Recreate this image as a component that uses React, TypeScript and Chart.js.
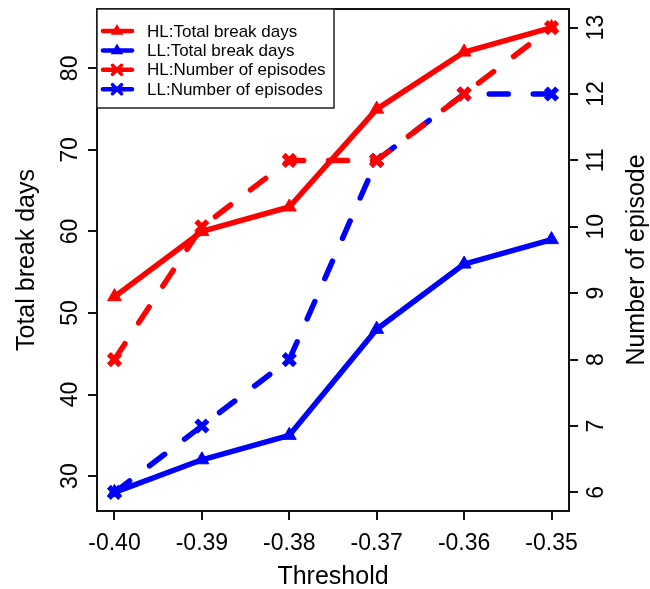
import React, { useEffect, useRef } from 'react';
import { Chart, registerables } from 'chart.js';

Chart.register(...registerables);

// ---- data ----
const thresholds = [-0.4, -0.39, -0.38, -0.37, -0.36, -0.35];
const hlBreakDays = [52, 60, 63, 75, 82, 85];
const llBreakDays = [28, 32, 35, 48, 56, 59];
const hlEpisodes = [8, 10, 11, 11, 12, 13];
const llEpisodes = [6, 7, 8, 11, 12, 12];

const xTicks = [-0.4, -0.39, -0.38, -0.37, -0.36, -0.35];
const leftTicks = [30, 40, 50, 60, 70, 80];
const rightTicks = [6, 7, 8, 9, 10, 11, 12, 13];

const seriesLabels = [
  'HL:Total break days',
  'LL:Total break days',
  'HL:Number of episodes',
  'LL:Number of episodes',
];
const xTitle = 'Threshold';
const leftTitle = 'Total break days';
const rightTitle = 'Number of episode';

const RED = '#ff0000';
const BLUE = '#0000ff';
const FONT = "'Liberation Sans', Arial, sans-serif";

// R-style 4% range extension
const ext = (vals: number[]) => {
  const mn = Math.min(...vals);
  const mx = Math.max(...vals);
  const d = (mx - mn) * 0.04;
  return [mn - d, mx + d];
};
const [xMin, xMax] = ext(thresholds);
const [lMin, lMax] = ext([...hlBreakDays, ...llBreakDays]);
const [rMin, rMax] = ext([...hlEpisodes, ...llEpisodes]);

const pts = (ys: number[]) => thresholds.map((x, i) => ({ x, y: ys[i] }));

const DASH = [19, 25];

const framePlugin = {
  id: 'rframe',
  afterDraw(chart: any) {
    const { ctx, chartArea: a } = chart;
    ctx.save();
    // box
    ctx.strokeStyle = '#111';
    ctx.lineWidth = 2;
    ctx.strokeRect(a.left, a.top, a.right - a.left, a.bottom - a.top);

    // right title (reads bottom to top)
    ctx.fillStyle = '#000';
    ctx.font = `25px ${FONT}`;
    ctx.textAlign = 'center';
    ctx.textBaseline = 'middle';
    ctx.translate(637, (a.top + a.bottom) / 2);
    ctx.rotate(-Math.PI / 2);
    ctx.fillText(rightTitle, 0, 0);
    ctx.restore();

    // legend
    const ds = chart.data.datasets;
    const lx = a.left;
    const ly = a.top;
    const lw = 237;
    const lh = 99;
    ctx.save();
    ctx.fillStyle = '#fff';
    ctx.fillRect(lx, ly, lw, lh);
    ctx.strokeStyle = '#222';
    ctx.lineWidth = 1.5;
    ctx.strokeRect(lx, ly, lw, lh);
    ctx.font = `17px ${FONT}`;
    ctx.textBaseline = 'middle';
    ctx.textAlign = 'left';
    ds.forEach((d: any, i: number) => {
      const cy = ly + 22 + i * 19.4;
      const c = d.borderColor;
      ctx.strokeStyle = c;
      ctx.fillStyle = c;
      ctx.lineWidth = 4.5;
      ctx.lineCap = 'round';
      ctx.beginPath();
      ctx.moveTo(lx + 6, cy);
      ctx.lineTo(lx + 35, cy);
      ctx.stroke();
      const mx = lx + 20;
      if (d.pointStyle === 'triangle') {
        const r = 7;
        ctx.beginPath();
        ctx.moveTo(mx, cy - r);
        ctx.lineTo(mx + r * 0.9, cy + r * 0.55);
        ctx.lineTo(mx - r * 0.9, cy + r * 0.55);
        ctx.closePath();
        ctx.fill();
      } else {
        const r = 4.5;
        ctx.lineWidth = 3.5;
        ctx.beginPath();
        ctx.moveTo(mx - r, cy - r);
        ctx.lineTo(mx + r, cy + r);
        ctx.moveTo(mx + r, cy - r);
        ctx.lineTo(mx - r, cy + r);
        ctx.stroke();
      }
      ctx.fillStyle = '#000';
      ctx.fillText(d.label, lx + 50, cy + 1);
    });
    ctx.restore();
  },
};

export default function App() {
  const ref = useRef<HTMLCanvasElement>(null);

  useEffect(() => {
    const canvas = ref.current;
    if (!canvas) return;

    const lineDs = (label: string, data: number[], color: string, axis: string, dashed: boolean, style: string) => ({
      label,
      data: pts(data),
      yAxisID: axis,
      borderColor: color,
      backgroundColor: color,
      borderWidth: 5.5,
      borderDash: dashed ? DASH : [],
      borderCapStyle: 'round',
      borderJoinStyle: 'round',
      pointStyle: style,
      pointRadius: 8,
      pointBorderWidth: style === 'triangle' ? 1 : 5.5,
      pointBackgroundColor: color,
      pointBorderColor: color,
      tension: 0,
      fill: false,
      clip: false as any,
    });

    const tickFont = { family: FONT, size: 23 };
    const titleFont = { family: FONT, size: 25 };
    const noPadV = (s: any, w: number) => {
      s.width = w;
      s.paddingTop = 0;
      s.paddingBottom = 0;
    };

    const chart = new Chart(canvas, {
      type: 'line',
      data: {
        datasets: [
          lineDs(seriesLabels[0], hlBreakDays, RED, 'y', false, 'triangle'),
          lineDs(seriesLabels[1], llBreakDays, BLUE, 'y', false, 'triangle'),
          lineDs(seriesLabels[2], hlEpisodes, RED, 'y2', true, 'crossRot'),
          lineDs(seriesLabels[3], llEpisodes, BLUE, 'y2', true, 'crossRot'),
        ] as any,
      },
      options: {
        responsive: false,
        animation: false,
        devicePixelRatio: 1,
        layout: { autoPadding: false, padding: { top: 9, left: 0, right: 0, bottom: 0 } },
        plugins: {
          legend: { display: false },
          tooltip: { enabled: false },
        },
        scales: {
          x: {
            type: 'linear',
            position: 'bottom',
            min: xMin,
            max: xMax,
            afterBuildTicks: (s: any) => {
              s.ticks = xTicks.map((v) => ({ value: v }));
            },
            afterFit: (s: any) => {
              s.height = 78;
              s.paddingLeft = 0;
              s.paddingRight = 0;
            },
            ticks: {
              autoSkip: false,
              maxRotation: 0,
              minRotation: 0,
              padding: 10,
              color: '#000',
              font: tickFont,
              callback: (v: any) => Number(v).toFixed(2),
            },
            grid: {
              drawOnChartArea: false,
              drawTicks: true,
              tickLength: 9,
              color: '#111',
              lineWidth: 2,
            },
            border: { display: false },
            title: {
              display: true,
              text: xTitle,
              color: '#000',
              font: titleFont,
              padding: { top: 0, bottom: -3 },
            },
          },
          y: {
            type: 'linear',
            position: 'left',
            min: lMin,
            max: lMax,
            afterBuildTicks: (s: any) => {
              s.ticks = leftTicks.map((v) => ({ value: v }));
            },
            afterFit: (s: any) => noPadV(s, 97),
            ticks: {
              autoSkip: false,
              minRotation: 90,
              maxRotation: 90,
              crossAlign: 'center',
              padding: 5,
              color: '#000',
              font: tickFont,
            },
            grid: {
              drawOnChartArea: false,
              drawTicks: true,
              tickLength: 9,
              color: '#111',
              lineWidth: 2,
            },
            border: { display: false },
            title: {
              display: true,
              text: leftTitle,
              color: '#000',
              font: titleFont,
              padding: { top: 12, bottom: 0 },
            },
          },
          y2: {
            type: 'linear',
            position: 'right',
            min: rMin,
            max: rMax,
            afterBuildTicks: (s: any) => {
              s.ticks = rightTicks.map((v) => ({ value: v }));
            },
            afterFit: (s: any) => noPadV(s, 81),
            ticks: {
              autoSkip: false,
              minRotation: 90,
              maxRotation: 90,
              crossAlign: 'center',
              padding: 6,
              color: '#000',
              font: tickFont,
            },
            grid: {
              drawOnChartArea: false,
              drawTicks: true,
              tickLength: 9,
              color: '#111',
              lineWidth: 2,
            },
            border: { display: false },
          },
        },
      } as any,
      plugins: [framePlugin],
    });

    return () => chart.destroy();
  }, []);

  return (
    <div style={{ position: 'absolute', left: 0, top: 0, width: 650, height: 589, background: '#fff' }}>
      <canvas ref={ref} width={650} height={589} style={{ display: 'block', width: 650, height: 589 }} />
    </div>
  );
}
